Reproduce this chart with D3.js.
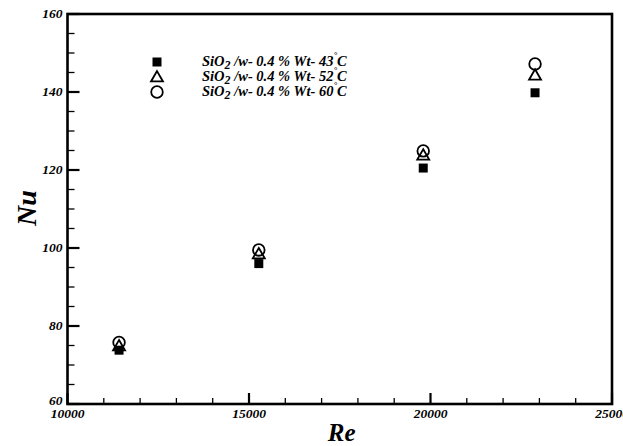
<!DOCTYPE html>
<html>
<head>
<meta charset="utf-8">
<script src="https://cdn.jsdelivr.net/npm/d3@7"></script>
<style>
body { margin: 0; background: #fff; }
text { font-family: "Liberation Serif", "DejaVu Serif", serif; font-weight: bold; font-style: italic; }
</style>
</head>
<body>
<svg id="chart" width="623" height="446"></svg>
<script>
// values
var re = [11420, 15270, 19800, 22880];
var nu43 = [73.8, 96.0, 120.5, 139.8];
var nu52 = [74.9, 98.5, 123.8, 144.3];
var nu60 = [75.8, 99.5, 124.9, 147.2];
var legendTemps = ["43", "52", "60"];
var xTicks = [10000, 15000, 20000, 25000];
var yTicks = [60, 80, 100, 120, 140, 160];

var svg = d3.select("#chart");
var pLeft = 67.5, pRight = 612, pTop = 14, pBottom = 404;

var x = d3.scaleLinear().domain([10000, 25000]).range([pLeft, pRight]);
var y = d3.scaleLinear().domain([60, 160]).range([pBottom, pTop]);

// minor ticks
var xMinor = d3.range(10000, 25001, 1000).filter(function(v){ return xTicks.indexOf(v) < 0; });
var yMinor = d3.range(60, 161, 5).filter(function(v){ return yTicks.indexOf(v) < 0; });

svg.selectAll(".xminor").data(xMinor).enter().append("line")
	.attr("x1", function(d){ return x(d); }).attr("x2", function(d){ return x(d); })
	.attr("y1", pBottom).attr("y2", pBottom - 6)
	.attr("stroke", "#000").attr("stroke-width", 1.3);
svg.selectAll(".xmajor").data(xTicks).enter().append("line")
	.attr("x1", function(d){ return x(d); }).attr("x2", function(d){ return x(d); })
	.attr("y1", pBottom).attr("y2", pBottom - 11)
	.attr("stroke", "#000").attr("stroke-width", 2.2);
svg.selectAll(".yminor").data(yMinor).enter().append("line")
	.attr("y1", function(d){ return y(d); }).attr("y2", function(d){ return y(d); })
	.attr("x1", pLeft).attr("x2", pLeft + 7)
	.attr("stroke", "#000").attr("stroke-width", 1.3);
svg.selectAll(".ymajor").data(yTicks).enter().append("line")
	.attr("y1", function(d){ return y(d); }).attr("y2", function(d){ return y(d); })
	.attr("x1", pLeft).attr("x2", pLeft + 12)
	.attr("stroke", "#000").attr("stroke-width", 2.2);

// frame
svg.append("rect")
	.attr("x", pLeft).attr("y", pTop)
	.attr("width", pRight - pLeft).attr("height", pBottom - pTop)
	.attr("fill", "none").attr("stroke", "#000").attr("stroke-width", 2.6);

// tick labels
svg.selectAll(".xlab").data(xTicks).enter().append("text")
	.attr("x", function(d){ return x(d); }).attr("y", pBottom + 14)
	.attr("text-anchor", "middle").attr("font-size", 13.5)
	.text(function(d){ return d; });
svg.selectAll(".ylab").data(yTicks).enter().append("text")
	.attr("x", pLeft - 5).attr("y", function(d){ return y(d) + (d == 60 ? 1 : 4); })
	.attr("text-anchor", "end").attr("font-size", 13.5)
	.text(function(d){ return d; });

// axis titles
svg.append("text").attr("x", (pLeft + pRight) / 2 + 2).attr("y", 441)
	.attr("text-anchor", "middle").attr("font-size", 25).text("Re");
svg.append("text").attr("transform", "translate(36,208) rotate(-90)")
	.attr("text-anchor", "middle").attr("font-size", 28).text("Nu");

// markers
var square = d3.symbol().type(d3.symbolSquare).size(81);
var triangle = d3.symbol().type(d3.symbolTriangle).size(62);

svg.selectAll(".s60").data(re).enter().append("circle")
	.attr("cx", function(d){ return x(d); })
	.attr("cy", function(d, i){ return y(nu60[i]); })
	.attr("r", 5.8).attr("fill", "none").attr("stroke", "#000").attr("stroke-width", 1.8);
svg.selectAll(".s52").data(re).enter().append("path")
	.attr("d", triangle)
	.attr("transform", function(d, i){ return "translate(" + x(d) + "," + (y(nu52[i]) + 1) + ")"; })
	.attr("fill", "none").attr("stroke", "#000").attr("stroke-width", 1.8);
svg.selectAll(".s43").data(re).enter().append("path")
	.attr("d", square)
	.attr("transform", function(d, i){ return "translate(" + x(d) + "," + y(nu43[i]) + ")"; })
	.attr("fill", "#000");

// legend
var legY = [62, 77, 92];
var lg = svg.append("g");
lg.append("path").attr("d", square).attr("transform", "translate(157," + legY[0] + ")").attr("fill", "#000");
lg.append("path").attr("d", triangle).attr("transform", "translate(157," + (legY[1] + 1) + ")")
	.attr("fill", "none").attr("stroke", "#000").attr("stroke-width", 1.8);
lg.append("circle").attr("cx", 157).attr("cy", legY[2]).attr("r", 5.8)
	.attr("fill", "none").attr("stroke", "#000").attr("stroke-width", 1.8);

legendTemps.forEach(function(t, i){
	var tx = lg.append("text").attr("x", 202).attr("y", legY[i] + 4).attr("font-size", 14.5);
	tx.append("tspan").text("SiO");
	tx.append("tspan").attr("font-size", 12).attr("dy", 3).text("2");
	tx.append("tspan").attr("dy", -3).text(" /w- 0.4 % Wt- " + t);
	tx.append("tspan").attr("font-size", 9).attr("dy", -8).text("°");
	tx.append("tspan").attr("dy", 8).text("C");
});
</script>
</body>
</html>
